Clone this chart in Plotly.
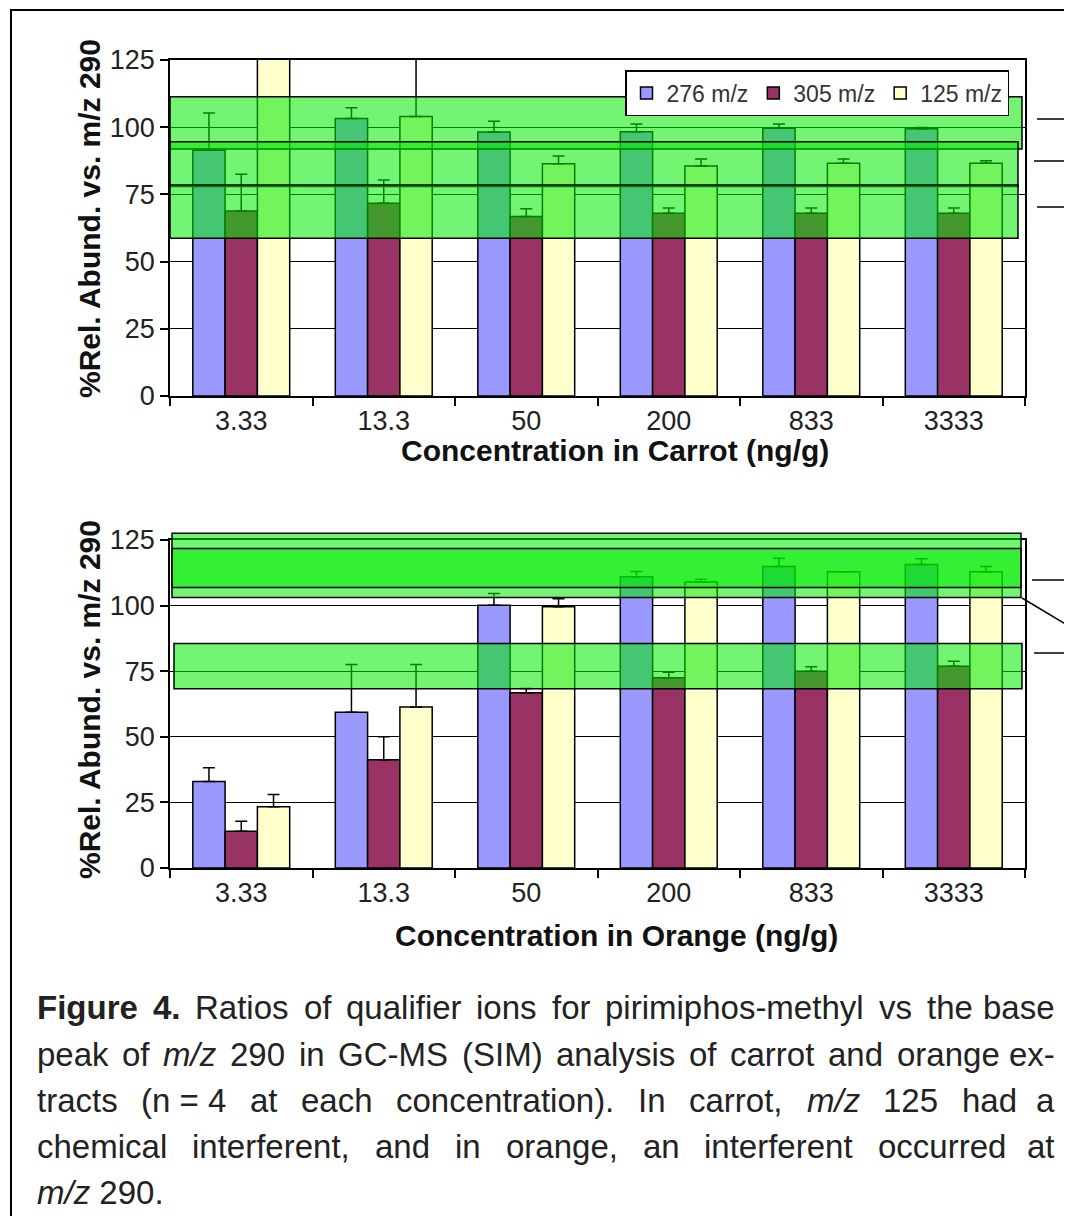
import plotly.graph_objects as go

# ---------------- data ----------------
categories = ["3.33", "13.3", "50", "200", "833", "3333"]
series_names = ["276 m/z", "305 m/z", "125 m/z"]
series_colors = ["#9999FF", "#993366", "#FFFFCC"]

carrot_276 = [91.4, 103.2, 98.2, 98.3, 99.6, 99.4]
carrot_276_err = [13.9, 4.0, 4.0, 2.9, 1.6, 0.5]
carrot_305 = [68.8, 71.7, 66.8, 68.0, 68.0, 68.0]
carrot_305_err = [13.7, 8.7, 2.9, 1.9, 1.9, 1.9]
carrot_125 = [127.0, 104.0, 86.4, 85.6, 86.6, 86.6]
carrot_125_err = [0.0, 30.0, 2.9, 2.6, 1.6, 0.9]

orange_276 = [33.0, 59.4, 100.1, 111.0, 114.9, 115.7]
orange_276_err = [5.2, 18.2, 4.5, 2.0, 3.1, 2.2]
orange_305 = [14.0, 41.3, 66.8, 72.5, 75.0, 76.9]
orange_305_err = [3.8, 8.7, 1.6, 2.1, 1.7, 1.9]
orange_125 = [23.3, 61.4, 99.6, 109.0, 112.9, 112.9]
orange_125_err = [4.7, 16.2, 3.0, 1.0, 0.0, 2.0]

y_ticks = [0, 25, 50, 75, 100, 125]

# tolerance windows (value ranges, % rel. abundance)
carrot_bands = [(91.9, 111.3), (77.9, 94.6), (58.7, 78.5)]
orange_bands = [(103.1, 127.6), (106.9, 121.8), (68.3, 85.6)]

caption_lines = [
    [("Figure", "b"), ("4.", "b"), ("Ratios", ""), ("of", ""), ("qualifier", ""), ("ions", ""),
     ("for", ""), ("pirimiphos-methyl", ""), ("vs", ""), ("the", ""), ("base", "")],
    [("peak", ""), ("of", ""), ("m/z", "i"), ("290", ""), ("in", ""), ("GC-MS", ""), ("(SIM)", ""),
     ("analysis", ""), ("of", ""), ("carrot", ""), ("and", ""), ("orange", ""), ("ex-", "")],
    [("tracts", ""), ("(n = 4", ""), ("at", ""), ("each", ""), ("concentration).", ""), ("In", ""),
     ("carrot,", ""), ("m/z", "i"), ("125", ""), ("had", ""), ("a", "")],
    [("chemical", ""), ("interferent,", ""), ("and", ""), ("in", ""), ("orange,", ""), ("an", ""),
     ("interferent", ""), ("occurred", ""), ("at", "")],
]
caption_last = "<i>m/z</i> 290."

# ---------------- geometry helpers ----------------
W, H = 1072, 1216
OFF = 8  # page body offset
def px(x):
    return (x - OFF) / W
def py(y):
    return 1 - (y - OFF) / H

x_dom = [px(170), px(1025)]
top_dom = [py(396), py(60)]
bot_dom = [py(868), py(540)]
YMAX = 125.0

def vy(v, dom):
    return dom[0] + v / YMAX * (dom[1] - dom[0])

FONT = "Liberation Sans, Arial, sans-serif"

fig = go.Figure()

def add_group(vals_list, errs_list, xa, ya, show):
    for name, col, vals, errs in zip(series_names, series_colors, vals_list, errs_list):
        fig.add_trace(go.Bar(
            x=categories, y=vals, name=name, xaxis=xa, yaxis=ya,
            marker=dict(color=col, line=dict(color="black", width=1.5)),
            error_y=dict(type="data", symmetric=False, array=errs,
                         arrayminus=[0] * len(errs), color="black",
                         thickness=1.5, width=6),
            showlegend=show, legendgroup=name,
        ))

add_group([carrot_276, carrot_305, carrot_125],
          [carrot_276_err, carrot_305_err, carrot_125_err], "x", "y", True)
add_group([orange_276, orange_305, orange_125],
          [orange_276_err, orange_305_err, orange_125_err], "x2", "y2", False)

xcommon = dict(type="category", categoryorder="array", categoryarray=categories,
               showline=True, linecolor="black", linewidth=1.5, mirror=True,
               ticks="outside", tickson="boundaries", ticklen=8, tickcolor="black",
               tickwidth=1.5, showgrid=False, automargin=False,
               tickfont=dict(family=FONT, size=27, color="#222"), domain=x_dom)
ycommon = dict(range=[0, YMAX], tickvals=y_ticks, showgrid=True, gridcolor="black",
               gridwidth=1, showline=True, linecolor="black", linewidth=1.5,
               mirror=True, ticks="outside", ticklen=8, tickcolor="black", tickwidth=1.5,
               zeroline=False, automargin=False,
               tickfont=dict(family=FONT, size=27, color="#222"))

fig.update_layout(
    width=W, height=H, autosize=False,
    margin=dict(l=0, r=0, t=0, b=0, pad=0, autoexpand=False),
    paper_bgcolor="white", plot_bgcolor="white",
    barmode="group", bargap=0.32, bargroupgap=0.0,
    xaxis=dict(anchor="y", **xcommon),
    yaxis=dict(anchor="x", domain=top_dom, **ycommon),
    xaxis2=dict(anchor="y2", **xcommon),
    yaxis2=dict(anchor="x2", domain=bot_dom, **ycommon),
    legend=dict(orientation="h", x=px(625), y=py(70), xanchor="left", yanchor="top",
                bgcolor="white", bordercolor="black", borderwidth=1.5,
                font=dict(family=FONT, size=23, color="#333"),
                itemwidth=30, tracegroupgap=0, traceorder="normal"),
    font=dict(family=FONT, color="black"),
)

shapes = []
band_fill = "rgba(0,235,0,0.55)"
for (lo, hi), (x0, x1) in zip(carrot_bands, [(170, 1022), (170, 1018), (170, 1018)]):
    shapes.append(dict(type="rect", xref="paper", yref="paper",
                       x0=px(x0), x1=px(x1), y0=vy(lo, top_dom), y1=vy(hi, top_dom),
                       fillcolor=band_fill, line=dict(color="black", width=1.5), layer="above"))
for (lo, hi), (x0, x1) in zip(orange_bands, [(172, 1021), (172, 1021), (174, 1022)]):
    shapes.append(dict(type="rect", xref="paper", yref="paper",
                       x0=px(x0), x1=px(x1), y0=vy(lo, bot_dom), y1=vy(hi, bot_dom),
                       fillcolor=band_fill, line=dict(color="black", width=1.5), layer="above"))

for (x0, y0, x1, y1) in [(1037, 119, 1080, 119), (1034, 161, 1080, 161), (1037, 207, 1080, 207),
                         (1032, 580, 1080, 580), (1022, 598, 1072, 628), (1034, 653, 1080, 653)]:
    shapes.append(dict(type="line", xref="paper", yref="paper",
                       x0=px(x0), y0=py(y0), x1=px(x1), y1=py(y1),
                       line=dict(color="black", width=1.5)))

shapes.append(dict(type="rect", xref="paper", yref="paper",
                   x0=px(11), y0=py(1240), x1=px(1100), y1=py(10),
                   line=dict(color="black", width=2), fillcolor="rgba(0,0,0,0)", layer="below"))
fig.update_layout(shapes=shapes)

ann = []
for yc in (219, 700):
    ann.append(dict(text="<b>%Rel. Abund. vs. m/z 290</b>", xref="paper", yref="paper",
                    x=px(89), y=py(yc), textangle=-90, showarrow=False,
                    xanchor="center", yanchor="middle",
                    font=dict(family=FONT, size=30, color="#111")))
ann.append(dict(text="<b>Concentration in Carrot (ng/g)</b>", xref="paper", yref="paper",
                x=px(615), y=py(450), showarrow=False, xanchor="center", yanchor="middle",
                font=dict(family=FONT, size=30, color="#111")))
ann.append(dict(text="<b>Concentration in Orange (ng/g)</b>", xref="paper", yref="paper",
                x=px(616), y=py(935), showarrow=False, xanchor="center", yanchor="middle",
                font=dict(family=FONT, size=30, color="#111")))

AW = {' ': 278, '!': 278, '(': 333, ')': 333, ',': 278, '-': 333, '.': 278, '/': 278, '=': 584}
for d in "0123456789":
    AW[d] = 556
AW.update(dict(A=667, B=667, C=722, D=722, E=667, F=611, G=778, H=722, I=278, J=500, K=667,
               L=556, M=833, N=722, O=778, P=667, Q=778, R=722, S=667, T=611, U=722, V=667,
               W=944, X=667, Y=667, Z=611, a=556, b=556, c=500, d=556, e=556, f=278, g=556,
               h=556, i=222, j=222, k=500, l=222, m=833, n=556, o=556, p=556, q=556, r=333,
               s=500, t=278, u=556, v=500, w=722, x=500, y=500, z=500))
BW = {'F': 611, 'i': 278, 'g': 611, 'u': 611, 'r': 389, 'e': 556, '4': 556, '.': 278}

CAP_FS = 33
CAP_L, CAP_R = 35, 1057
def wlen(word, style):
    tbl = BW if style == "b" else AW
    return sum(tbl.get(c, AW.get(c, 556)) for c in word) / 1000.0 * CAP_FS

cap_centers = [1008, 1054, 1100, 1146, 1192]
for line, yc in zip(caption_lines, cap_centers):
    widths = [wlen(w, s) for w, s in line]
    gap = (CAP_R - CAP_L - sum(widths)) / (len(line) - 1)
    xpos = CAP_L
    for i, ((w, s), wd) in enumerate(zip(line, widths)):
        txt = w.replace(" ", "&nbsp;")
        if s == "b":
            txt = "<b>" + txt + "</b>"
        elif s == "i":
            txt = "<i>" + txt + "</i>"
        last = i == len(line) - 1
        ann.append(dict(text=txt, xref="paper", yref="paper",
                        x=px(CAP_R) if last else px(xpos), y=py(yc),
                        xanchor="right" if last else "left", yanchor="middle", showarrow=False,
                        font=dict(family=FONT, size=CAP_FS, color="#222")))
        xpos += wd + gap
ann.append(dict(text=caption_last, xref="paper", yref="paper", x=px(CAP_L), y=py(cap_centers[4]),
                xanchor="left", yanchor="middle", showarrow=False,
                font=dict(family=FONT, size=CAP_FS, color="#222")))

fig.update_layout(annotations=ann)
fig.write_html("out.html")
